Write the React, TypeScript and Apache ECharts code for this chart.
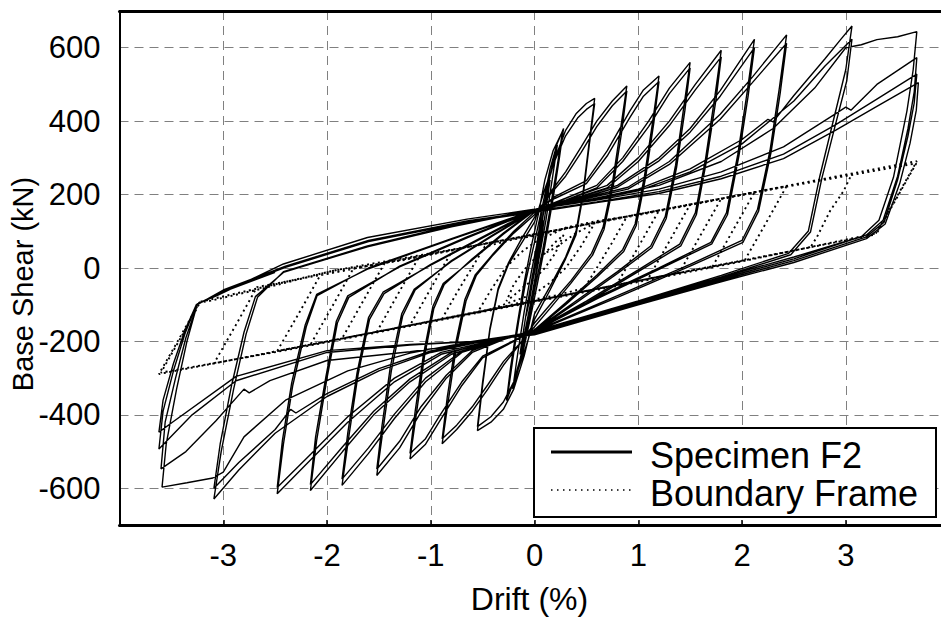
import React, { useEffect, useRef } from "react";
import * as echarts from "echarts";

// ---------- axis ticks ----------
const xTickValues = [-3, -2, -1, 0, 1, 2, 3];
const yTickValues = [-600, -400, -200, 0, 200, 400, 600];

// ---------- Specimen F2 cycles: [drift %, base shear kN] ----------
const f2Elastic = [
  [0, 0], [0.03, 50], [0.06, 100], [0.08, 130], [0.05, 70], [0.02, 20], [-0.02, -40], [-0.05, -90], [-0.08, -130], [-0.05, -75], [-0.02, -20], [0.01, 20],
  [0.05, 90], [0.1, 170], [0.15, 240], [0.11, 160], [0.06, 70], [0.01, -20], [-0.04, -100], [-0.09, -170], [-0.14, -235], [-0.1, -160], [-0.05, -70], [0, 10],
  [0.06, 110], [0.12, 210], [0.18, 290], [0.22, 335], [0.17, 240], [0.11, 130], [0.04, 20], [-0.03, -90], [-0.1, -200], [-0.16, -280], [-0.21, -330], [-0.16, -230], [-0.1, -120], [-0.03, -10], [0.02, 60],
  [0.08, 170], [0.15, 270], [0.22, 340], [0.28, 380], [0.24, 300], [0.18, 190], [0.1, 60], [0.03, -40], [-0.05, -150], [-0.12, -240], [-0.2, -310], [-0.27, -361], [-0.23, -270], [-0.17, -160], [-0.1, -40], [-0.03, 60],
  [0.04, 150], [0.1, 240], [0.18, 320], [0.27, 372], [0.22, 280], [0.15, 160], [0.08, 50], [0, -60], [-0.07, -160], [-0.14, -250], [-0.2, -310], [-0.26, -350], [-0.21, -250], [-0.15, -140], [-0.08, -30], [0, 70],
];
const f2A1 = [
  [0.1, 200], [0.2, 300], [0.3, 375], [0.4, 420], [0.5, 448], [0.58, 462],
  [0.53, 350], [0.47, 210], [0.4, 100], [0.3, 30], [0.15, -50], [0, -125],
  [-0.1, -240], [-0.2, -330], [-0.3, -385], [-0.42, -420], [-0.55, -443],
  [-0.5, -320], [-0.43, -170], [-0.35, -60], [-0.25, 10], [-0.12, 70], [0, 125],
];
const f2A2 = [
  [0.1, 215], [0.2, 295], [0.3, 360], [0.42, 410], [0.5, 432], [0.58, 448],
  [0.53, 340], [0.47, 200], [0.4, 90], [0.3, 25], [0.15, -60], [0, -140],
  [-0.1, -230], [-0.2, -310], [-0.3, -365], [-0.42, -405], [-0.55, -432],
  [-0.5, -310], [-0.43, -165], [-0.35, -55], [-0.25, 15], [-0.12, 82], [0, 138],
];
const f2B1 = [
  [0.15, 205], [0.3, 262], [0.45, 330], [0.6, 400], [0.75, 455], [0.89, 496],
  [0.83, 380], [0.75, 230], [0.66, 110], [0.55, 40], [0.35, -35], [0.15, -100], [0, -150],
  [-0.15, -210], [-0.3, -265], [-0.45, -330], [-0.6, -390], [-0.75, -440], [-0.89, -479],
  [-0.83, -360], [-0.75, -210], [-0.66, -90], [-0.56, -20], [-0.4, 35], [-0.2, 95], [0, 145],
];
const f2B2 = [
  [0.15, 200], [0.3, 250], [0.45, 315], [0.6, 385], [0.75, 442], [0.89, 482],
  [0.84, 370], [0.76, 225], [0.67, 105], [0.56, 35], [0.35, -42], [0.15, -110], [0, -160],
  [-0.15, -208], [-0.3, -255], [-0.45, -318], [-0.6, -378], [-0.75, -428], [-0.89, -465],
  [-0.84, -350], [-0.76, -205], [-0.67, -85], [-0.57, -18], [-0.4, 38], [-0.2, 100], [0, 152],
];
const f2C1 = [
  [0.2, 195], [0.5, 238], [0.7, 319], [0.92, 428], [1.05, 485], [1.2, 523],
  [1.14, 400], [1.06, 250], [0.97, 120], [0.85, 50], [0.6, -20], [0.3, -95], [0, -168],
  [-0.2, -200], [-0.5, -245], [-0.7, -320], [-0.92, -420], [-1.05, -480], [-1.2, -520],
  [-1.14, -400], [-1.06, -240], [-0.97, -110], [-0.87, -45], [-0.6, 25], [-0.3, 95], [0, 158],
];
const f2C2 = [
  [0.2, 190], [0.5, 230], [0.7, 305], [0.92, 410], [1.05, 468], [1.2, 508],
  [1.15, 395], [1.07, 245], [0.98, 115], [0.86, 45], [0.6, -25], [0.3, -100], [0, -170],
  [-0.2, -198], [-0.5, -240], [-0.7, -310], [-0.92, -405], [-1.05, -465], [-1.2, -505],
  [-1.15, -390], [-1.07, -235], [-0.98, -105], [-0.88, -42], [-0.6, 22], [-0.3, 92], [0, 156],
];
const f2D1 = [
  [0.3, 190], [0.6, 225], [0.85, 300], [1.1, 400], [1.3, 490], [1.5, 560],
  [1.44, 440], [1.36, 280], [1.26, 140], [1.12, 60], [0.8, -10], [0.4, -90], [0, -170],
  [-0.3, -195], [-0.6, -230], [-0.85, -300], [-1.1, -395], [-1.3, -490], [-1.52, -565],
  [-1.46, -440], [-1.38, -280], [-1.27, -130], [-1.15, -60], [-0.8, 20], [-0.4, 90], [0, 158],
];
const f2D2 = [
  [0.3, 185], [0.6, 218], [0.85, 290], [1.1, 385], [1.3, 475], [1.5, 545],
  [1.45, 430], [1.37, 275], [1.27, 135], [1.13, 55], [0.8, -15], [0.4, -95], [0, -172],
  [-0.3, -192], [-0.6, -225], [-0.85, -292], [-1.1, -380], [-1.3, -472], [-1.52, -548],
  [-1.47, -430], [-1.39, -270], [-1.28, -125], [-1.16, -58], [-0.8, 18], [-0.4, 88], [0, 156],
];
const f2E1 = [
  [0.3, 185], [0.7, 225], [1.0, 300], [1.3, 400], [1.55, 500], [1.8, 593],
  [1.74, 470], [1.65, 300], [1.55, 150], [1.4, 65], [1.0, -5], [0.5, -90], [0, -170],
  [-0.3, -195], [-0.7, -230], [-1.05, -310], [-1.35, -410], [-1.6, -505], [-1.855, -592],
  [-1.79, -460], [-1.7, -290], [-1.59, -140], [-1.45, -70], [-1.0, 10], [-0.5, 85], [0, 158],
];
const f2E2 = [
  [0.3, 182], [0.7, 218], [1.0, 290], [1.3, 388], [1.55, 485], [1.8, 575],
  [1.75, 460], [1.66, 295], [1.56, 145], [1.41, 60], [1.0, -10], [0.5, -95], [0, -172],
  [-0.3, -192], [-0.7, -226], [-1.05, -300], [-1.35, -398], [-1.6, -490], [-1.855, -575],
  [-1.8, -450], [-1.71, -285], [-1.6, -135], [-1.46, -66], [-1.0, 8], [-0.5, 82], [0, 156],
];
const f2F1 = [
  [0.4, 190], [0.8, 225], [1.2, 300], [1.5, 380], [1.79, 483], [2.12, 623],
  [2.05, 480], [1.96, 310], [1.85, 150], [1.7, 70], [1.2, 0], [0.6, -80], [0, -170],
  [-0.4, -200], [-0.8, -235], [-1.2, -310], [-1.55, -400], [-1.85, -500], [-2.16, -606],
  [-2.1, -470], [-2.0, -300], [-1.9, -150], [-1.79, -80], [-1.3, 5], [-0.65, 85], [0, 158],
];
const f2F2 = [
  [0.4, 186], [0.8, 220], [1.2, 292], [1.5, 370], [1.79, 468], [2.12, 600],
  [2.06, 470], [1.97, 305], [1.86, 145], [1.71, 66], [1.2, -4], [0.6, -84], [0, -172],
  [-0.4, -197], [-0.8, -230], [-1.2, -302], [-1.55, -390], [-1.85, -487], [-2.16, -590],
  [-2.11, -460], [-2.01, -295], [-1.91, -145], [-1.8, -76], [-1.3, 3], [-0.65, 82], [0, 156],
];
const f2G1 = [
  [0.4, 185], [0.9, 220], [1.3, 290], [1.79, 419], [2.1, 520], [2.43, 635],
  [2.36, 490], [2.27, 320], [2.15, 160], [2.0, 75], [1.5, 10], [0.8, -75], [0, -172],
  [-0.4, -200], [-0.9, -235], [-1.35, -310], [-1.8, -420], [-2.15, -520], [-2.48, -615],
  [-2.42, -480], [-2.33, -320], [-2.2, -160], [-2.095, -75], [-1.6, 0], [-0.8, 80], [0, 158],
];
const f2G2 = [
  [0.4, 182], [0.9, 215], [1.3, 282], [1.79, 405], [2.1, 505], [2.43, 612],
  [2.37, 480], [2.28, 315], [2.16, 155], [2.01, 70], [1.5, 5], [0.8, -80], [0, -174],
  [-0.4, -197], [-0.9, -230], [-1.35, -300], [-1.8, -405], [-2.15, -505], [-2.48, -598],
  [-2.43, -470], [-2.34, -312], [-2.21, -155], [-2.1, -72], [-1.6, -2], [-0.8, 78], [0, 156],
];
const f2H1 = [
  [0.5, 185], [1.0, 215], [1.5, 270], [2.0, 350], [2.25, 405], [2.3, 398], [2.5, 470], [2.8, 570], [2.95, 622], [3.06, 659],
  [3.0, 540], [2.88, 401], [2.75, 250], [2.64, 101], [2.45, 40], [1.8, -20], [1.0, -90], [0, -172],
  [-0.5, -200], [-1.0, -230], [-1.5, -280], [-2.0, -350], [-2.5, -450], [-2.85, -550], [-3.09, -629],
  [-3.02, -500], [-2.9, -330], [-2.78, -180], [-2.67, -80], [-2.42, -10], [-1.61, 60], [-0.8, 115], [0, 160],
];
const f2H2 = [
  [0.5, 182], [1.0, 210], [1.5, 262], [2.0, 338], [2.5, 455], [2.8, 550], [3.06, 623],
  [3.01, 510], [2.9, 390], [2.77, 245], [2.66, 98], [2.47, 36], [1.8, -24], [1.0, -94], [0, -174],
  [-0.5, -197], [-1.0, -226], [-1.5, -274], [-2.0, -342], [-2.3, -395], [-2.35, -385], [-2.5, -440], [-2.85, -530], [-3.09, -600],
  [-3.03, -480], [-2.92, -320], [-2.8, -175], [-2.69, -78], [-2.42, -12], [-1.61, 58], [-0.8, 112], [0, 158],
];
const f2I = [
  [0.6, 190], [1.2, 225], [1.8, 290], [2.3, 380], [2.7, 490], [3.0, 600], [3.15, 608], [3.3, 622], [3.5, 630], [3.685, 644],
  [3.65, 540], [3.59, 428], [3.46, 247], [3.32, 130], [3.15, 85], [2.5, 30], [1.79, -26], [1.0, -90], [0, -175],
  [-0.6, -200], [-1.2, -232], [-1.8, -280], [-2.4, -360], [-2.8, -460], [-3.0, -556], [-3.1, -572], [-3.35, -585], [-3.59, -597],
  [-3.55, -480], [-3.45, -330], [-3.35, -200], [-3.25, -98], [-3.06, -75], [-2.42, 11], [-1.61, 83], [-0.65, 133], [0, 160],
];
const f2J = [
  [0.6, 185], [1.2, 215], [1.8, 262], [2.4, 330], [2.9, 420], [3.0, 438], [3.05, 430], [3.3, 500], [3.685, 573],
  [3.66, 480], [3.6, 380], [3.5, 250], [3.36, 130], [3.2, 90], [2.5, 25], [1.79, -30], [1.0, -95], [0, -178],
  [-0.6, -205], [-1.2, -228], [-2.0, -252], [-2.55, -307], [-2.75, -340], [-2.8, -330], [-3.07, -416], [-3.36, -500], [-3.6, -547],
  [-3.56, -420], [-3.46, -300], [-3.36, -190], [-3.25, -100], [-3.0, -60], [-2.4, 5], [-1.6, 75], [-0.65, 128], [0, 155],
];
const f2K = [
  [0.6, 180], [1.2, 208], [1.8, 250], [2.4, 310], [2.9, 390], [3.3, 460], [3.685, 528],
  [3.66, 450], [3.6, 360], [3.5, 240], [3.37, 125], [3.2, 85], [2.5, 20], [1.79, -34], [1.0, -98], [0, -180],
  [-0.6, -200], [-1.2, -210], [-2.0, -230], [-2.876, -307], [-3.3, -400], [-3.62, -493],
  [-3.58, -390], [-3.48, -280], [-3.37, -180], [-3.26, -100], [-3.0, -62], [-2.4, 2], [-1.6, 72], [-0.65, 125], [0, 152],
];
const f2L = [
  [0.6, 178], [1.2, 203], [1.8, 243], [2.4, 298], [2.9, 375], [3.3, 440], [3.7, 505],
  [3.68, 430], [3.62, 340], [3.52, 230], [3.38, 120], [3.2, 80], [2.5, 15], [1.79, -38], [1.0, -100], [0, -182],
  [-0.6, -200], [-1.2, -208], [-2.0, -225], [-2.876, -295], [-3.49, -420], [-3.62, -447],
  [-3.58, -360], [-3.48, -260], [-3.37, -170], [-3.26, -100], [-3.0, -65], [-2.5, -12],
];

// ---------- Boundary Frame cycles ----------
const bfSmall = [
  [0, 0], [0.1, 40], [0.2, 70], [0.28, 90], [0.2, 40], [0.1, 0], [0, -30], [-0.1, -50], [-0.2, -75], [-0.27, -90], [-0.2, -45], [-0.1, -5], [0, 25],
];
const bfA = [
  [0.2, 55], [0.4, 95], [0.58, 122], [0.45, 60], [0.3, 0], [0.15, -40], [0, -70],
  [-0.2, -90], [-0.4, -110], [-0.55, -122], [-0.42, -60], [-0.28, 0], [-0.14, 40], [0, 70],
];
const bfB = [
  [0.3, 110], [0.6, 128], [0.89, 140], [0.75, 70], [0.6, 0], [0.48, -55], [0.2, -75], [0, -85],
  [-0.3, -105], [-0.6, -122], [-0.89, -138], [-0.75, -68], [-0.6, 2], [-0.48, 58], [-0.2, 78], [0, 88],
];
const bfC = [
  [0.4, 113], [0.8, 136], [1.2, 157], [1.0, 57], [0.79, -46], [0.4, -68], [0, -90],
  [-0.4, -112], [-0.8, -134], [-1.2, -156], [-1.0, -56], [-0.79, 49], [-0.4, 70], [0, 92],
];
const bfD = [
  [0.5, 119], [1.0, 146], [1.5, 173], [1.3, 73], [1.094, -30], [0.6, -57], [0, -90],
  [-0.5, -118], [-1.0, -145], [-1.52, -174], [-1.3, -63], [-1.109, 32], [-0.6, 60], [0, 92],
];
const bfE = [
  [0.6, 124], [1.2, 157], [1.8, 189], [1.6, 89], [1.395, -13], [0.7, -51], [0, -90],
  [-0.6, -123], [-1.2, -156], [-1.855, -192], [-1.65, -89], [-1.443, 14], [-0.7, 54], [0, 92],
];
const bfF = [
  [0.7, 130], [1.4, 168], [2.12, 206], [1.92, 106], [1.716, 4], [0.9, -40], [0, -90],
  [-0.7, -128], [-1.4, -167], [-2.16, -209], [-1.95, -105], [-1.747, -2], [-0.9, 43], [0, 92],
];
const bfG = [
  [0.8, 135], [1.6, 178], [2.43, 223], [2.23, 122], [2.026, 21], [1.0, -35], [0, -90],
  [-0.8, -134], [-1.6, -178], [-2.48, -226], [-2.27, -123], [-2.066, -20], [-1.0, 38], [0, 92],
];
const bfH = [
  [1.0, 146], [2.0, 200], [3.06, 257], [2.98, 210], [2.85, 156], [2.72, 83], [2.658, 56], [1.3, -18], [0, -90],
  [-1.0, -145], [-2.0, -200], [-3.09, -260], [-2.88, -156], [-2.675, -52], [-1.3, 22], [0, 92],
];
const bfI = [
  [1.2, 157], [2.4, 222], [3.685, 291], [3.46, 178], [3.284, 91], [2.0, 20], [1.0, -35], [0, -90],
  [-1.2, -156], [-2.4, -222], [-3.62, -289], [-3.42, -190], [-3.23, -94], [-3.12, -89], [-2.58, -53], [-1.935, -7], [-1.29, 20], [-0.65, 56], [0, 92],
];
const bfJ = [
  [1.2, 155], [2.4, 220], [3.68, 285], [3.47, 180], [3.3, 95], [2.0, 18], [1.0, -38], [0, -92],
  [-1.2, -158], [-2.4, -224], [-3.6, -285], [-3.4, -185], [-3.22, -92], [-1.9, -5], [0, 90],
];

const specimenCycles = [f2Elastic, f2A1, f2A2, f2B1, f2B2, f2C1, f2C2, f2D1, f2D2, f2E1, f2E2, f2F1, f2F2, f2G1, f2G2, f2H1, f2H2, f2I, f2J, f2K, f2L];
const frameCycles = [bfSmall, bfA, bfB, bfC, bfD, bfE, bfF, bfG, bfH, bfI, bfJ];

const FONT = "'Liberation Sans', Arial, Helvetica, sans-serif";

export default function App() {
  const ref = useRef<HTMLDivElement>(null);

  useEffect(() => {
    if (!ref.current) return;
    const chart = echarts.init(ref.current, null, { renderer: "svg" });
    const specimenData: number[][] = [];
    specimenCycles.forEach((c) => c.forEach((p) => specimenData.push(p)));
    const frameData: number[][] = [];
    frameCycles.forEach((c) => c.forEach((p) => frameData.push(p)));

    chart.setOption({
      animation: false,
      backgroundColor: "#fff",
      grid: { left: 119.5, right: 10.5, top: 11, bottom: 94.5, containLabel: false },
      xAxis: [
        {
          type: "value",
          position: "bottom",
          min: -4,
          max: 4,
          interval: 1,
          name: "Drift (%)",
          nameLocation: "middle",
          nameGap: 58,
          nameTextStyle: { fontSize: 32, color: "#000", fontFamily: FONT, padding: [0, 10, 0, 0] },
          axisLine: { show: true, onZero: false, lineStyle: { color: "#000", width: 3 } },
          axisTick: { show: true, inside: true, length: 5, customValues: xTickValues, lineStyle: { color: "#000", width: 1.5 } },
          axisLabel: { customValues: xTickValues, fontSize: 31, color: "#000", fontFamily: FONT, margin: 15 },
          splitLine: { show: true, lineStyle: { color: "#808080", width: 1, type: [9, 6] } },
        },
        {
          type: "value",
          position: "top",
          min: -4,
          max: 4,
          interval: 1,
          axisLine: { show: true, onZero: false, lineStyle: { color: "#000", width: 3 } },
          axisTick: { show: false },
          axisLabel: { show: false },
          splitLine: { show: false },
        },
      ],
      yAxis: {
        type: "value",
        min: -700,
        max: 700,
        interval: 100,
        axisLine: { show: true, onZero: false, lineStyle: { color: "#000", width: 2 } },
        axisTick: { show: false, customValues: yTickValues },
        axisLabel: { customValues: yTickValues, fontSize: 31, color: "#000", fontFamily: FONT, margin: 19 },
        splitLine: { show: true, lineStyle: { color: "#808080", width: 1, type: [9, 6] } },
      },
      series: [
        {
          name: "Boundary Frame",
          type: "line",
          data: frameData,
          symbol: "none",
          showSymbol: false,
          lineStyle: { color: "#000", width: 1.9, type: [2, 3.5] },
          z: 3,
        },
        {
          name: "Specimen F2",
          type: "line",
          data: specimenData,
          symbol: "none",
          showSymbol: false,
          lineStyle: { color: "#000", width: 1.4 },
          z: 4,
        },
      ],
      graphic: [
        {
          type: "text",
          x: 23,
          y: 284,
          rotation: Math.PI / 2,
          z: 100,
          style: { text: "Base Shear (kN)", fontSize: 29, fontFamily: FONT, fill: "#000", textAlign: "center", textVerticalAlign: "middle", align: "center", verticalAlign: "middle" },
        },
        {
          type: "rect",
          z: 100,
          shape: { x: 534, y: 428, width: 402, height: 89 },
          style: { fill: "#fff", stroke: "#000", lineWidth: 2 },
        },
        {
          type: "line",
          z: 101,
          shape: { x1: 551, y1: 452, x2: 632, y2: 452 },
          style: { stroke: "#000", lineWidth: 3 },
        },
        {
          type: "line",
          z: 101,
          shape: { x1: 551, y1: 490, x2: 632, y2: 490 },
          style: { stroke: "#000", lineWidth: 1.6, lineDash: [1.5, 4.5] },
        },
        {
          type: "text",
          x: 650,
          y: 455,
          z: 101,
          style: { text: "Specimen F2", fontSize: 36, fontFamily: FONT, fill: "#000", textVerticalAlign: "middle", verticalAlign: "middle" },
        },
        {
          type: "text",
          x: 650,
          y: 493,
          z: 101,
          style: { text: "Boundary Frame", fontSize: 36, fontFamily: FONT, fill: "#000", textVerticalAlign: "middle", verticalAlign: "middle" },
        },
      ],
    });
    return () => chart.dispose();
  }, []);

  return (
    <div style={{ position: "fixed", left: 0, top: 0, width: 941, height: 620, overflow: "hidden", background: "#fff" }}>
      <div ref={ref} style={{ width: 960, height: 620 }} />
    </div>
  );
}
